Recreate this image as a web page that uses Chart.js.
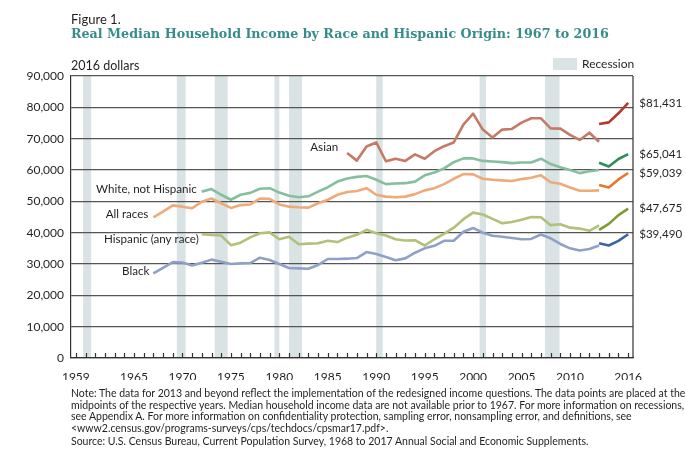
<!DOCTYPE html>
<html>
<head>
<meta charset="utf-8">
<script src="https://cdn.jsdelivr.net/npm/chart.js@4.4.1/dist/chart.umd.min.js"></script>
<style>
  body { margin: 0; background: #fff; }
  #wrap { position: relative; width: 686px; height: 457px; overflow: hidden; font-family: Lato, "Open Sans", sans-serif; color: #231f20; }
  #box { position: absolute; left: 0; top: 0; width: 686px; height: 457px; }
  .fig { position: absolute; left: 71px; top: 11px; font-size: 13px; }
  .title { position: absolute; left: 71px; top: 26px; font: bold 12.7px "DejaVu Serif", serif; color: #378c89; white-space: nowrap; }
  .unit { position: absolute; left: 71px; top: 58px; font-size: 12.5px; }
  .rec-box { position: absolute; left: 553px; top: 58px; width: 24px; height: 12px; background: #d9e3e4; }
  .rec-txt { position: absolute; left: 582px; top: 56px; font-size: 12px; }
  .notes { position: absolute; left: 71px; top: 388px; font: 10.5px "Liberation Sans Narrow", Lato, sans-serif; line-height: 11.6px; white-space: nowrap; }
  .notes .src { margin-top: 2px; }
</style>
</head>
<body>
<div id="wrap">
  <div id="box"><canvas id="grafico"></canvas></div>
  <div class="fig">Figure 1.</div>
  <div class="title">Real Median Household Income by Race and Hispanic Origin: 1967 to 2016</div>
  <div class="unit">2016 dollars</div>
  <div class="rec-box"></div>
  <div class="rec-txt">Recession</div>
  <div class="notes">
    <div>Note: The data for 2013 and beyond reflect the implementation of the redesigned income questions. The data points are placed at the</div>
    <div>midpoints of the respective years. Median household income data are not available prior to 1967. For more information on recessions,</div>
    <div>see Appendix A. For more information on confidentiality protection, sampling error, nonsampling error, and definitions, see</div>
    <div>&lt;www2.census.gov/programs-surveys/cps/techdocs/cpsmar17.pdf&gt;.</div>
    <div class="src">Source: U.S. Census Bureau, Current Population Survey, 1968 to 2017 Annual Social and Economic Supplements.</div>
  </div>
</div>
<script>
// years of the old survey design, 1967-2013
const years = [1967, 1968, 1969, 1970, 1971, 1972, 1973, 1974, 1975, 1976, 1977, 1978, 1979, 1980,
  1981, 1982, 1983, 1984, 1985, 1986, 1987, 1988, 1989, 1990, 1991, 1992, 1993, 1994, 1995, 1996,
  1997, 1998, 1999, 2000, 2001, 2002, 2003, 2004, 2005, 2006, 2007, 2008, 2009, 2010, 2011, 2012, 2013];
// redesigned income questions, 2013-2016
const yearsNew = [2013, 2014, 2015, 2016];

const asian = [null, null, null, null, null, null, null, null, null, null, null, null, null, null,
  null, null, null, null, null, null, 65400, 63000, 67500, 68800, 62800, 63600, 62900, 65000, 63600, 66000,
  67600, 68800, 74500, 78000, 72900, 70400, 72900, 73100, 75100, 76500, 76500, 73300, 73200, 71200, 69600, 71900, 69000];
const asianNew = [74700, 75200, 78100, 81431];

const whiteNH = [null, null, null, null, null, 53100, 53900, 52100, 50500, 52100, 52700, 54000, 54200, 52800,
  51800, 51300, 51600, 53100, 54500, 56300, 57300, 57800, 58100, 56900, 55500, 55700, 55800, 56300, 58300, 59200,
  60500, 62500, 63700, 63700, 62900, 62700, 62500, 62200, 62400, 62400, 63600, 61900, 60900, 60000, 59000, 59600, 60000];
const whiteNHNew = [62300, 61100, 63500, 65041];

const allRaces = [44900, 46700, 48700, 48300, 47800, 49900, 50900, 49400, 47900, 48800, 49000, 50900, 50800, 49000,
  48300, 48100, 48000, 49400, 50500, 52100, 53000, 53300, 54200, 52100, 51500, 51300, 51500, 52300, 53500, 54200,
  55500, 57200, 58700, 58600, 57200, 56900, 56700, 56500, 57100, 57500, 58300, 56100, 55600, 54400, 53400, 53400, 53500];
const allRacesNew = [55200, 54400, 57000, 59039];

const hispanic = [null, null, null, null, null, 39500, 39300, 39100, 36000, 36800, 38500, 39800, 40100, 37900,
  38700, 36300, 36500, 36600, 37400, 37000, 38400, 39300, 40900, 39800, 39100, 37900, 37500, 37600, 35900, 37900,
  39600, 41600, 44300, 46400, 45800, 44400, 43000, 43400, 44100, 45000, 44900, 42400, 42700, 41600, 41300, 40600, 42300];
const hispanicNew = [40900, 42800, 45600, 47675];

const black = [27000, 28800, 30600, 30500, 29500, 30400, 31400, 30700, 30000, 30200, 30300, 32000, 31300, 30000,
  28700, 28600, 28500, 29700, 31600, 31600, 31700, 31900, 33800, 33200, 32200, 31200, 31800, 33600, 35000, 35800,
  37400, 37400, 40300, 41500, 40000, 39000, 38700, 38300, 37900, 38000, 39400, 38200, 36400, 35000, 34300, 34800, 35900];
const blackNew = [36600, 35900, 37400, 39490];

const seriesNames = ["Asian", "White, not Hispanic", "All races", "Hispanic (any race)", "Black"];

// recessions, as axis positions (data points sit at year midpoints)
const recessionStart = [1959.75, 1969.42, 1973.33, 1979.5, 1981.0, 1990.0, 2000.67, 2007.42];
const recessionEnd   = [1960.58, 1970.33, 1974.67, 1980.0, 1982.33, 1990.67, 2001.33, 2008.92];

const xTickLabels = [1959, 1965, 1970, 1975, 1980, 1985, 1990, 1995, 2000, 2005, 2010, 2016];
const yTicks = [0, 10000, 20000, 30000, 40000, 50000, 60000, 70000, 80000, 90000];

const oldColors = ["#c47a64", "#86bf9f", "#eeaa78", "#b2c078", "#8fa0c9"];
const newColors = ["#b2392d", "#2f8d5a", "#e5782a", "#7d9b2f", "#3d64a1"];

const oldData = [asian, whiteNH, allRaces, hispanic, black];
const newData = [asianNew, whiteNHNew, allRacesNew, hispanicNew, blackNew];

const pontos = (xs, ys) => xs.map((x, i) => ({ x: x, y: ys[i] }));

const datasets = [];
oldData.forEach((vals, i) => {
  datasets.push({ label: seriesNames[i], data: pontos(years, vals), borderColor: oldColors[i], kind: "old", idx: i });
});
newData.forEach((vals, i) => {
  datasets.push({ label: seriesNames[i] + " (2013 and beyond)", data: pontos(yearsNew, vals), borderColor: newColors[i], kind: "new", idx: i });
});
datasets.forEach(d => {
  d.borderWidth = 2.6;
  d.pointRadius = 0;
  d.tension = 0;
  d.fill = false;
  d.borderJoinStyle = "round";
});

const font = "Lato, 'Open Sans', sans-serif";
const ink = "#231f20";

const recessoes = {
  id: "recessoes",
  beforeDraw(chart) {
    const { ctx, chartArea, scales } = chart;
    ctx.save();
    ctx.fillStyle = "#d9e3e4";
    recessionStart.forEach((s, i) => {
      const x0 = scales.x.getPixelForValue(s);
      const x1 = scales.x.getPixelForValue(recessionEnd[i]);
      ctx.fillRect(x0, chartArea.top, x1 - x0, chartArea.bottom - chartArea.top);
    });
    ctx.restore();
  }
};

const moldura = {
  id: "moldura",
  afterDraw(chart) {
    const { ctx, chartArea, scales } = chart;
    ctx.save();
    ctx.strokeStyle = "#333";
    ctx.lineWidth = 1.2;
    ctx.beginPath();
    ctx.moveTo(chartArea.right, chartArea.top);
    ctx.lineTo(chartArea.right, chartArea.bottom);
    for (let y = 1959; y <= 2016; y++) {
      const x = Math.round(scales.x.getPixelForValue(y)) + 0.5;
      ctx.moveTo(x, chartArea.bottom);
      ctx.lineTo(x, chartArea.bottom - 5);
    }
    ctx.stroke();

    // series names next to first point, values after the last point
    ctx.font = "11.6px " + font;
    ctx.fillStyle = ink;
    ctx.textBaseline = "middle";
    const nameShift = [[-9, -6], [-5, -2], [-5, -3], [-3, 5], [-4, -2]];
    chart.data.datasets.forEach((ds, di) => {
      const meta = chart.getDatasetMeta(di);
      if (ds.kind === "old") {
        const k = ds.data.findIndex(p => p.y !== null);
        const pt = meta.data[k];
        ctx.textAlign = "right";
        ctx.fillText(ds.label, pt.x + nameShift[ds.idx][0], pt.y + nameShift[ds.idx][1]);
      } else {
        const last = ds.data.length - 1;
        const pt = meta.data[last];
        ctx.textAlign = "left";
        ctx.fillText("$" + ds.data[last].y.toLocaleString("en-US"), pt.x + 11, pt.y);
      }
    });
    ctx.restore();
  }
};

new Chart(document.getElementById("grafico"), {
  type: "line",
  data: { datasets: datasets },
  plugins: [recessoes, moldura],
  options: {
    responsive: true,
    maintainAspectRatio: false,
    animation: false,
    layout: { padding: { top: 76, right: 53, bottom: 77, left: 0 } },
    plugins: {
      legend: { display: false },
      tooltip: { enabled: false }
    },
    scales: {
      x: {
        type: "linear",
        min: 1958.5,
        max: 2016.5,
        afterBuildTicks: s => { s.ticks = xTickLabels.map(v => ({ value: v })); },
        afterFit: s => { s.height = 22; },
        ticks: {
          autoSkip: false,
          maxRotation: 0,
          padding: 4,
          color: ink,
          font: { family: font, size: 12 },
          callback: v => String(v)
        },
        grid: { display: false },
        border: { display: true, color: "#333", width: 1.2 }
      },
      y: {
        min: 0,
        max: 90000,
        afterBuildTicks: s => { s.ticks = yTicks.map(v => ({ value: v })); },
        afterFit: s => { s.width = 71; },
        ticks: {
          padding: 7,
          color: ink,
          font: { family: font, size: 12 },
          callback: v => v.toLocaleString("en-US")
        },
        grid: { color: "#555", lineWidth: 1.2, drawTicks: false },
        border: { display: true, color: "#333", width: 1.2 }
      }
    }
  }
});
</script>
</body>
</html>
